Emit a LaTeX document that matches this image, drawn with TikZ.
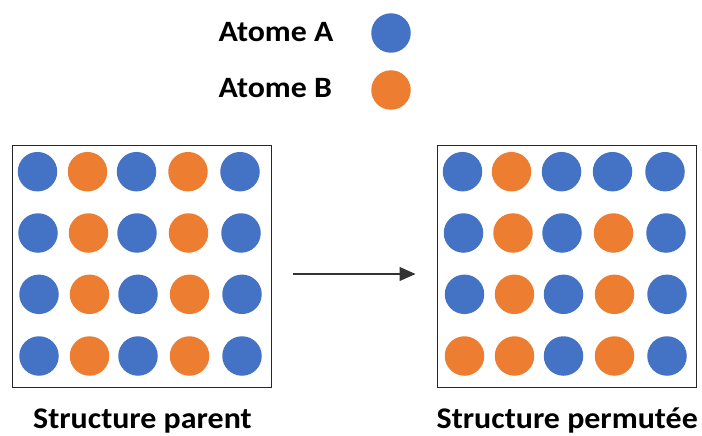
\documentclass[tikz,border=0pt]{standalone}
\usepackage{fontspec}
\setmainfont{Carlito}
\newfontfamily\wideA[FakeStretch=1.08]{Carlito}
\newfontfamily\wideB[FakeStretch=1.065]{Carlito}
\usetikzlibrary{arrows.meta}
\definecolor{atA}{HTML}{4472C4}
\definecolor{atB}{HTML}{ED7D31}
\tikzset{
  atom/.style={circle, inner sep=0pt, minimum size=39.5pt},
  atomA/.style={atom, fill=atA},
  atomB/.style={atom, fill=atB},
  frame/.style={draw=black!85, line width=1.4pt, inner sep=0pt},
  lbl/.style={font=\wideA\bfseries\fontsize{29.5}{32}\selectfont, inner sep=0pt, anchor=base west},
  captxt/.style={lbl, font=\wideB\bfseries\fontsize{30}{32}\selectfont},
  arr/.style={draw=black!80, line width=1.2pt, -{Triangle[length=16pt,width=14pt]}}
}
\begin{document}
\begin{tikzpicture}[x=1pt,y=-1pt]
\useasboundingbox (0,0) rectangle (702,436);
% legend
\node[lbl] (ta) at (218.5,41.7) {Atome A};
\node[lbl] (tb) at (218.5,97.7) {Atome B};
\node[atomA] (la) at (391,33) {};
\node[atomB] (lb) at (391,90) {};
% frames
\node[frame, minimum width=259.5pt, minimum height=241.5pt] (left) at (142,266.5) {};
\node[frame, minimum width=259.5pt, minimum height=241.5pt] (right) at (567,266.5) {};
% left grid
\foreach \row/\y/\xs in {1/171.7/{37.5,87.5,136.5,188,240},2/233/{38,88.5,137,188.5,241},3/294.3/{39,89.5,138,189.5,242},4/356/{39,89.5,138,189.5,242}}{
  \foreach \x [count=\c] in \xs {
    \ifodd\c \node[atomA] (L\row\c) at (\x,\y) {}; \else \node[atomB] (L\row\c) at (\x,\y) {}; \fi
  }
}
% right grid
\foreach \row/\y/\xs/\cols in {1/171.7/{462.5,511.5,561.5,612.5,665}/{A,B,A,A,A},2/233/{463.5,513,562,613.5,666}/{A,B,A,B,A},3/294.3/{464.5,514.5,563.5,614.5,667}/{A,B,A,B,A},4/356/{464.5,514.5,563.5,614.5,667}/{B,B,A,B,A}}{
  \foreach \x [count=\c] in \xs {
    \foreach \t [count=\k] in \cols {
      \ifnum\k=\c \node[atom\t] (R\row\c) at (\x,\y) {}; \fi
    }
  }
}
% arrow
\coordinate (a1) at (293,274);
\coordinate (a2) at (415.5,274);
\draw[arr] (a1) -- (a2);
% captions
\node[captxt] (cp) at (33,428.3) {Structure parent};
\node[captxt] (cq) at (436.5,428.3) {Structure permutée};
\end{tikzpicture}
\end{document}
